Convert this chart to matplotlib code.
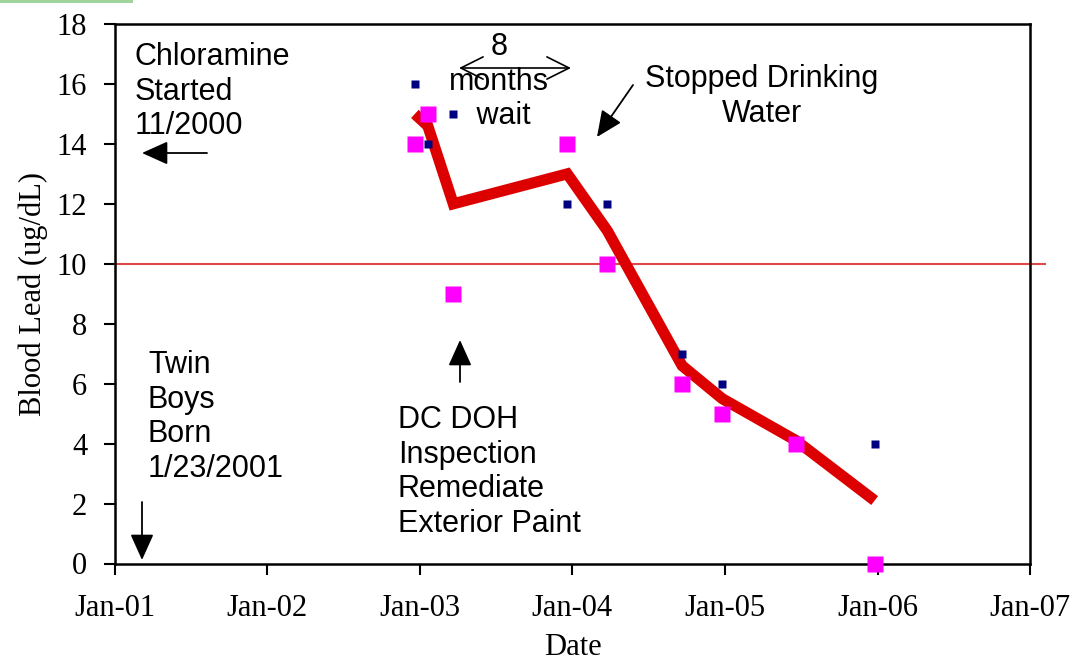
import matplotlib
matplotlib.use("Agg")
import matplotlib.pyplot as plt
import matplotlib.dates as mdates
from matplotlib.patches import Rectangle
import numpy as np
import pandas as pd

# Datos
fechas_azul = pd.to_datetime(["2002-12-20", "2003-01-20", "2003-03-22", "2003-12-20",
                              "2004-03-25", "2004-09-20", "2004-12-25", "2005-12-25"])
plomo_azul = [16, 14, 15, 12, 12, 7, 6, 4]

fechas_magenta = pd.to_datetime(["2002-12-20", "2003-01-20", "2003-03-22", "2003-12-20",
                                 "2004-03-25", "2004-09-20", "2004-12-25", "2005-06-20",
                                 "2005-12-25"])
plomo_magenta = [14, 15, 9, 14, 10, 6, 5, 4, 0]

fechas_linea = pd.to_datetime(["2002-12-20", "2003-01-20", "2003-03-22", "2003-12-20",
                               "2004-03-25", "2004-09-20", "2004-12-25", "2005-06-20",
                               "2005-12-25"])
plomo_linea = [15, 14.6, 12, 13, 11.1, 6.6, 5.5, 4.1, 2.1]

limite = 10
x_min, x_max = pd.Timestamp("2001-01-01"), pd.Timestamp("2007-01-01")

plt.rcParams['font.family'] = ['Liberation Serif', 'DejaVu Serif']

fig = plt.figure(figsize=(10.74, 6.65), dpi=100)
ax = fig.add_axes([115/1074, 1 - 563.5/665, (1030 - 115)/1074, (563.5 - 24)/665])

# franja verde de arriba a la izquierda
fig.patches.append(Rectangle((0, 1 - 3/665), 133/1074, 3/665, transform=fig.transFigure,
                             facecolor="#9fd49f", edgecolor="none"))

# linea de referencia 10 ug/dL (sale un poco del eje)
ax.plot([x_min, pd.Timestamp("2007-02-05")], [limite, limite], color="#e04848",
        lw=1.5, clip_on=False, zorder=2)

ax.plot(fechas_linea, plomo_linea, color="#dd0000", lw=8, solid_capstyle="butt",
        solid_joinstyle="miter", zorder=3)
ax.plot(fechas_magenta, plomo_magenta, ls="", marker="s", ms=12, color="#ff00ff",
        mec="none", zorder=4, clip_on=False)
ax.plot(fechas_azul, plomo_azul, ls="", marker="s", ms=5.5, color="#000080",
        mec="none", zorder=5, clip_on=False)

ax.set_xlim(x_min, x_max)
ax.set_ylim(0, 18)
ax.set_yticks(np.arange(0, 19, 2))
ax.xaxis.set_major_locator(mdates.YearLocator())
ax.xaxis.set_major_formatter(mdates.DateFormatter("%b-%y"))

ax.tick_params(axis="both", labelsize=22, direction="out", width=1.5, length=8,
               colors="black")
ax.tick_params(axis="x", pad=14)
ax.tick_params(axis="y", pad=12)
for s in ax.spines.values():
    s.set_linewidth(1.8)

ax.set_ylabel("Blood Lead (ug/dL)", fontsize=22, labelpad=6)
ax.set_xlabel("Date", fontsize=22, labelpad=7)

# anotaciones
sans = ['Liberation Sans', 'DejaVu Sans']
fs = 22
t_fig = lambda px, py: (px / 1074, 1 - py / 665)

fig.text(*t_fig(135, 42), "Chloramine\nStarted\n11/2000", family=sans, fontsize=fs,
         va="top", ha="left", linespacing=1.2)
fig.text(*t_fig(148, 350), "Twin\nBoys\nBorn\n1/23/2001", family=sans, fontsize=fs,
         va="top", ha="left", linespacing=1.2)
fig.text(*t_fig(398, 405), "DC DOH\nInspection\nRemediate\nExterior Paint", family=sans,
         fontsize=fs, va="top", ha="left", linespacing=1.2)
fig.text(*t_fig(762, 64), "Stopped Drinking\nWater", family=sans, fontsize=fs,
         va="top", ha="center", linespacing=1.2)
fig.text(*t_fig(499, 32), "8\nmonths\n wait", family=sans, fontsize=fs,
         va="top", ha="center", linespacing=1.2)

flecha = dict(arrowstyle="-|>,head_length=0.8,head_width=0.36", color="black", lw=1.3,
              mutation_scale=20, shrinkA=0, shrinkB=0)
def flecha_fig(x0, y0, x1, y1, props=flecha):
    ax.annotate("", xy=t_fig(x1, y1), xytext=t_fig(x0, y0), xycoords="figure fraction",
                textcoords="figure fraction", arrowprops=props, annotation_clip=False)

flecha_fig(207, 153, 142, 153)
flecha_fig(142, 502, 142, 560)
flecha_fig(460, 382, 460, 340)
flecha_fig(633, 85, 597, 137)
flecha_fig(459, 68, 571, 68,
           dict(arrowstyle="<->,head_length=0.8,head_width=0.4", color="black", lw=1.2,
                mutation_scale=20, shrinkA=0, shrinkB=0))

fig.savefig("out.png", dpi=100)
